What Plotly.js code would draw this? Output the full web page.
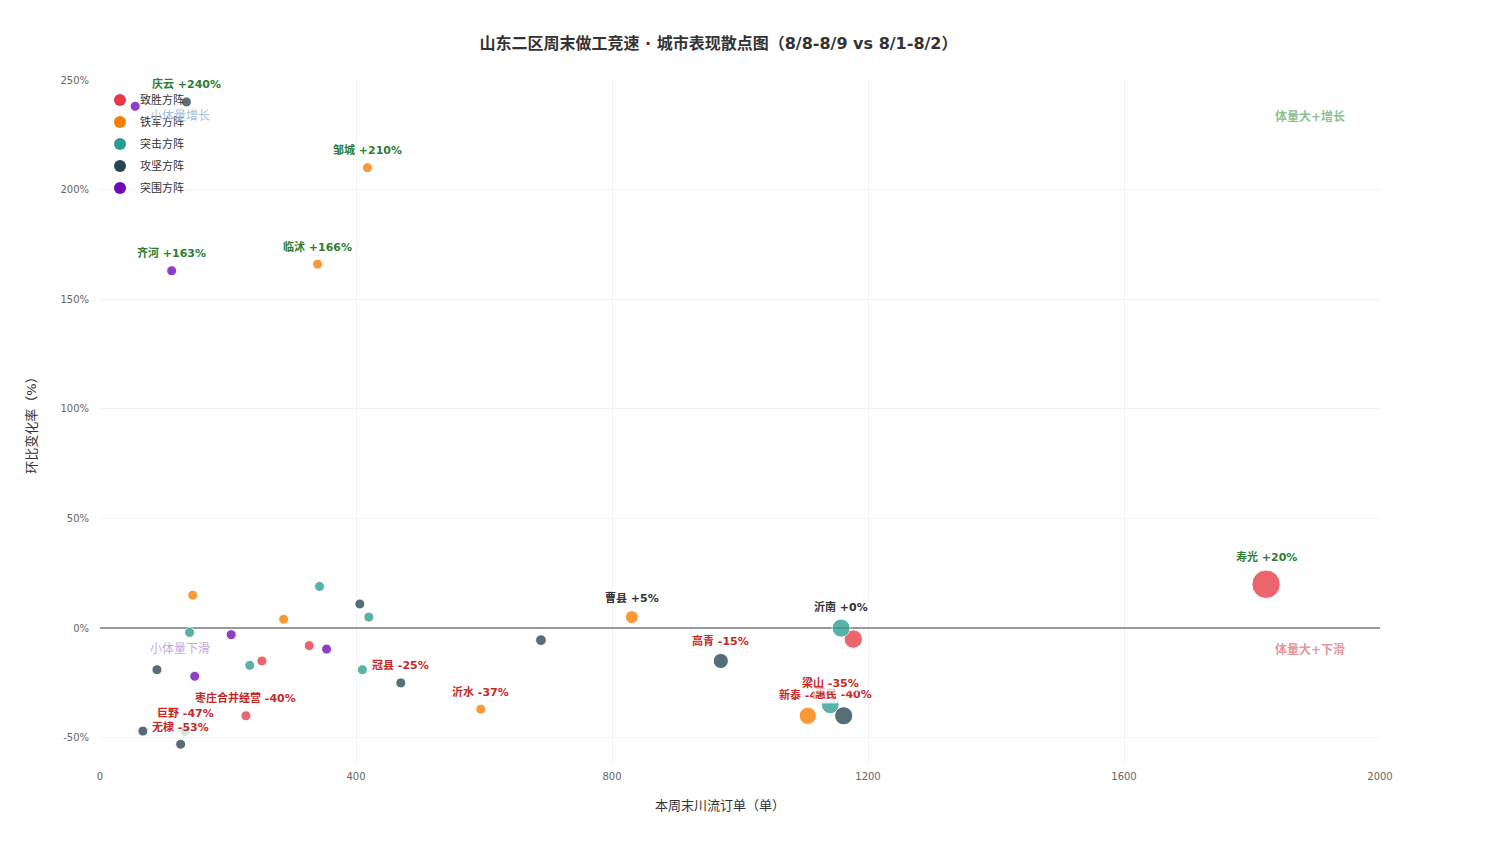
<!DOCTYPE html>
<html>
<head>
<meta charset="utf-8">
<script src="https://cdn.plot.ly/plotly-3.0.1.min.js"></script>
<style>
  html, body { margin: 0; padding: 0; background: #fff; }
  #chart { width: 1500px; height: 844px; }
</style>
</head>
<body>
<div id="chart"></div>
<script>
// 方阵名称
var groupNames = ['致胜方阵', '铁军方阵', '突击方阵', '攻坚方阵', '突围方阵'];

// 致胜方阵
var zsCity = ['', '', '枣庄合并经营', '寿光', ''];
var zsOrders = [327, 253, 228, 1822, 1177];
var zsRate = [-8, -15, -40, 20, -5];

// 铁军方阵
var tjCity = ['邹城', '临沭', '', '', '沂水', '曹县', '新泰'];
var tjOrders = [418, 340, 145, 287, 595, 831, 1106];
var tjRate = [210, 166, 15, 4, -37, 5, -40];

// 突击方阵
var tgCity = ['', '', '', '', '', '巨野', '沂南', '梁山'];
var tgOrders = [343, 420, 140, 234, 410, 133, 1158, 1141];
var tgRate = [19, 5, -2, -17, -19, -47, 0, -35];

// 攻坚方阵
var gjCity = ['庆云', '', '', '冠县', '无棣', '', '', '高青', '惠民', ''];
var gjOrders = [135, 406, 89, 470, 126, 67, 689, 970, 1162, 228];
var gjRate = [240, 11, -19, -25, -53, -47, -5.5, -15, -40, -32];

// 突围方阵
var twCity = ['', '齐河', '', '', ''];
var twOrders = [55, 112, 205, 354, 148];
var twRate = [238, 163, -3, -9.6, -22];

// 坐标轴刻度
var yTickVals = [-50, 0, 50, 100, 150, 200, 250];
var yTickText = ['-50%', '0%', '50%', '100%', '150%', '200%', '250%'];

var groupColors = ['#e63946', '#f77f00', '#2a9d8f', '#264653', '#7209b7'];
var font = 'DejaVu Sans, Noto Sans CJK SC, sans-serif';

var groupData = [
    { city: zsCity, x: zsOrders, y: zsRate },
    { city: tjCity, x: tjOrders, y: tjRate },
    { city: tgCity, x: tgOrders, y: tgRate },
    { city: gjCity, x: gjOrders, y: gjRate },
    { city: twCity, x: twOrders, y: twRate }
];

function markerSize(v) {
    return Math.max(10, v / 64);
}

var traces = [];
var labels = [];

groupData.forEach(function (g, k) {
    traces.push({
        x: g.x,
        y: g.y,
        text: g.city,
        name: groupNames[k],
        type: 'scatter',
        mode: 'markers',
        showlegend: false,
        marker: {
            color: groupColors[k],
            opacity: 0.78,
            size: g.x.map(markerSize),
            line: { color: '#ffffff', width: 1 }
        }
    });
    g.city.forEach(function (c, i) {
        if (!c) return;
        var v = g.y[i];
        var col = v >= 10 ? '#2e7d32' : (v <= -10 ? '#c62828' : '#333333');
        labels.push({
            x: g.x[i],
            y: v,
            xref: 'x',
            yref: 'y',
            text: c + ' ' + (v >= 0 ? '+' : '') + v + '%',
            showarrow: false,
            xanchor: 'center',
            yanchor: 'middle',
            yshift: markerSize(g.x[i]) / 2 + 12.5,
            bgcolor: 'rgba(255,255,255,0.7)',
            borderpad: 1,
            font: { family: font, size: 11, color: col, weight: 'bold' }
        });
    });
});

// 低处的标签先画，高处的盖在上面
labels.sort(function (a, b) { return a.y - b.y; });

// 图例
groupNames.forEach(function (n, k) {
    traces.push({
        x: [null],
        y: [null],
        name: n,
        type: 'scatter',
        mode: 'markers',
        legendgroup: 'g' + k,
        marker: { color: groupColors[k], size: 12 }
    });
});

var annotations = labels.concat([
    { xref: 'paper', yref: 'paper', x: 0.0625, y: 0.947, text: '小体量增长', showarrow: false,
      xanchor: 'center', yanchor: 'middle',
      font: { family: font, size: 12, color: '#a3bfdc' } },
    { xref: 'paper', yref: 'paper', x: 0.945, y: 0.947, text: '体量大+增长', showarrow: false,
      xanchor: 'center', yanchor: 'middle',
      font: { family: font, size: 12, color: '#8fbf91', weight: 'bold' } },
    { xref: 'paper', yref: 'paper', x: 0.0625, y: 0.168, text: '小体量下滑', showarrow: false,
      xanchor: 'center', yanchor: 'middle',
      font: { family: font, size: 12, color: '#c6a8de' } },
    { xref: 'paper', yref: 'paper', x: 0.945, y: 0.168, text: '体量大+下滑', showarrow: false,
      xanchor: 'center', yanchor: 'middle',
      font: { family: font, size: 12, color: '#e8959b', weight: 'bold' } },
    // x轴标题
    { xref: 'paper', yref: 'paper', x: 0.4845, y: 0, yshift: -41, text: '本周末川流订单（单）', showarrow: false,
      xanchor: 'center', yanchor: 'middle',
      font: { family: font, size: 13, color: '#333' } }
]);

var layout = {
    width: 1500,
    height: 844,
    margin: { l: 100, r: 120, t: 80, b: 80 },
    paper_bgcolor: '#ffffff',
    plot_bgcolor: '#ffffff',
    font: { family: font, size: 10, color: '#666' },
    title: {
        text: '山东二区周末做工竞速 · 城市表现散点图（8/8-8/9 vs 8/1-8/2）',
        font: { family: font, size: 16, color: '#333', weight: 'bold' },
        x: 0.479,
        xanchor: 'center',
        yref: 'container',
        y: 0.948,
        yanchor: 'middle'
    },
    xaxis: {
        range: [0, 2000],
        dtick: 400,
        tick0: 0,
        ticks: 'outside',
        ticklen: 3,
        tickcolor: 'rgba(0,0,0,0)',
        showgrid: true,
        gridcolor: '#f3f3f3',
        zeroline: false,
        showline: false,
        tickfont: { size: 10, color: '#666' }
    },
    yaxis: {
        title: { text: '环比变化率（%）', font: { family: font, size: 13, color: '#333' }, standoff: 20 },
        range: [-62, 250],
        tickmode: 'array',
        tickvals: yTickVals,
        ticktext: yTickText,
        ticks: 'outside',
        ticklen: 8,
        tickcolor: 'rgba(0,0,0,0)',
        showgrid: true,
        gridcolor: '#f3f3f3',
        zeroline: true,
        zerolinecolor: '#999999',
        zerolinewidth: 2,
        showline: false,
        tickfont: { size: 10, color: '#666' }
    },
    legend: {
        x: 0.0,
        y: 0.992,
        xanchor: 'left',
        yanchor: 'top',
        bgcolor: 'rgba(0,0,0,0)',
        traceorder: 'grouped',
        tracegroupgap: 3,
        font: { family: font, size: 11, color: '#333' }
    },
    annotations: annotations,
    showlegend: true
};

Plotly.newPlot('chart', traces, layout, { displayModeBar: false });
</script>
</body>
</html>
